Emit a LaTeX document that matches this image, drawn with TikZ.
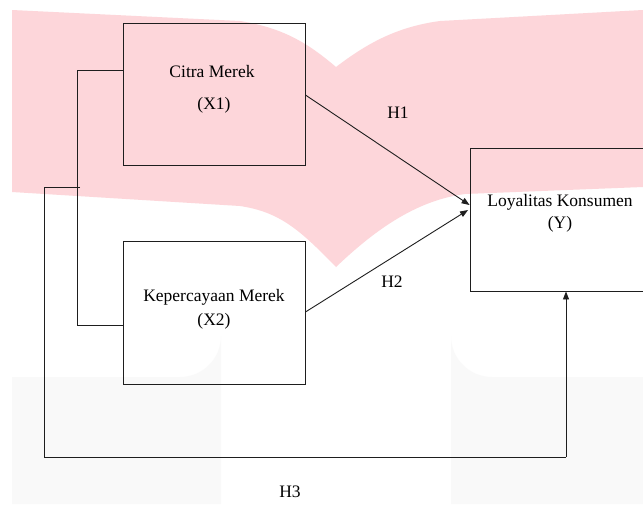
\documentclass[tikz,border=0pt]{standalone}
\usepackage{fontspec}
\setmainfont{Liberation Serif}
\usetikzlibrary{arrows.meta}
\definecolor{wmpink}{RGB}{253,214,218}
\definecolor{wmgray}{RGB}{249,249,249}
\definecolor{linec}{RGB}{30,30,30}
\tikzset{
  boxnode/.style={draw=linec, line width=0.9pt, inner sep=0pt},
  lbl/.style={font=\fontsize{17.5}{20}\selectfont, inner sep=0pt, anchor=center},
  conn/.style={draw=linec, line width=0.9pt},
  arr/.style={conn, -{Triangle[length=8pt,width=6pt]}}
}
\begin{document}
\begin{tikzpicture}[x=1pt,y=-1pt]
\useasboundingbox (0,0) rectangle (643,504);
\clip (0,0) rectangle (643,504);
\fill[white] (0,0) rectangle (643,504);
% watermark
\fill[wmpink] (12,10) -- (240,21) .. controls (285,28) and (310,45) .. (336,67)
  .. controls (365,45) and (395,27) .. (440,21) -- (643,10) -- (643,187)
  -- (465,194) .. controls (420,200) and (380,225) .. (336,267)
  .. controls (300,230) and (280,212) .. (240,206) -- (12,192) -- cycle;
\fill[wmgray] (12,504) -- (12,377) -- (180,377) arc[start angle=90,end angle=0,radius=41] -- (221,504) -- cycle;
\fill[wmgray] (643,504) -- (643,377) -- (492,377) arc[start angle=90,end angle=180,radius=41] -- (451,504) -- cycle;
% boxes
\node[boxnode, minimum width=182pt, minimum height=142pt] (x1) at (214,94) {};
\node[boxnode, minimum width=182pt, minimum height=143pt] (x2) at (214,312.5) {};
\node[boxnode, minimum width=180pt, minimum height=143pt] (y) at (560,219.5) {};
% texts
\node[lbl] (t1a) at (212,72) {Citra Merek};
\node[lbl] (t1b) at (214,105) {(X1)};
\node[lbl] (t2a) at (214,297) {Kepercayaan Merek};
\node[lbl] (t2b) at (214,321) {(X2)};
\node[lbl] (t3a) at (560,202) {Loyalitas Konsumen};
\node[lbl] (t3b) at (560,224) {(Y)};
\node[lbl] (h1) at (398,113) {H1};
\node[lbl] (h2) at (392,282) {H2};
\node[lbl] (h3) at (290,492) {H3};
% connectors
\draw[arr] (x1.east |- 0,95) -- (y.west |- 0,205);
\draw[arr] (x2.east |- 0,312) -- ([xshift=-1.5pt]y.west |- 0,210);
\draw[conn] (x1.west |- 0,70) -- (77,70) -- (77,325) -- (x2.west |- 0,325);
\coordinate (s1) at (80,187);
\coordinate (s0) at (44,187);
\draw[conn] (s1) -- (s0) -- (44,457) -- (566,457) coordinate (s2);
\draw[arr] (s2) -- (y.south -| s2);
\end{tikzpicture}
\end{document}
